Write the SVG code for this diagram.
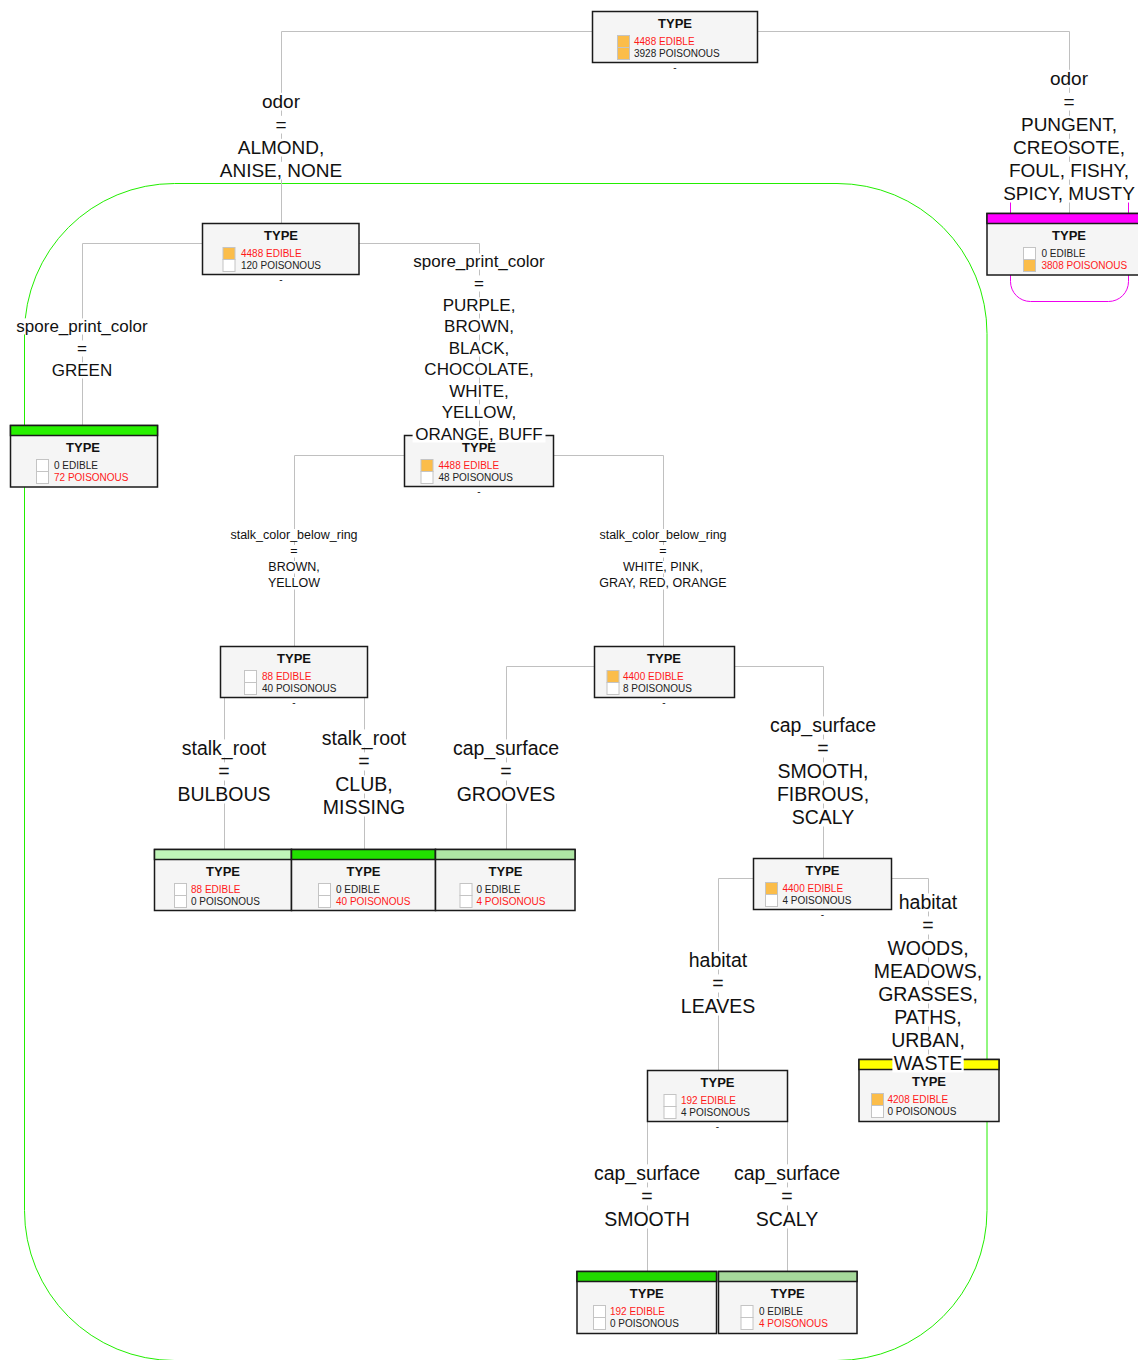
<svg xmlns="http://www.w3.org/2000/svg" width="1138" height="1360" viewBox="0 0 1138 1360">
<style>
  text { font-family: "Liberation Sans", Arial, sans-serif; }
  .box { fill: #f5f5f5; stroke: #1a1a1a; stroke-width: 1.5; }
  .ttl { font-size: 13px; font-weight: bold; text-anchor: middle; fill: #111; }
  .cnt { font-size: 10px; fill: #222; }
  .hot { fill: #ff1a1a; }
  .sq { stroke: #c4c4c4; stroke-width: 1; }
  .on { fill: #fbbd4a; }
  .off { fill: #ffffff; }
  .dash { font-size: 10px; text-anchor: middle; fill: #222; }
  .edge { fill: none; stroke: #c0c0c0; stroke-width: 1; }
  .bg { fill: #ffffff; }
  .lb { text-anchor: middle; fill: #111; }
  .f19 { font-size: 19px; }
  .f195 { font-size: 19.5px; }
  .f17 { font-size: 17px; }
  .f12 { font-size: 12.5px; }
</style>
<rect x="0" y="0" width="1138" height="1360" fill="#ffffff"/>

<!-- clusters -->
<g id="clusters">
  <rect x="24.5" y="183.5" width="962.5" height="1177" rx="150" ry="150" fill="none" stroke="#22ee00" stroke-width="1"/>
  <path d="M1010.5 190 V281.5 A20 20 0 0 0 1030.5 301.5 H1108.5 A20 20 0 0 0 1128.5 281.5 V190" fill="none" stroke="#ee00ee" stroke-width="1"/>
</g>

<!-- connectors -->
<g id="edges">
  <path class="edge" d="M592.5 31.5 H281.5 V223.5"/>
  <path class="edge" d="M757.5 31.5 H1069.5 V213.5"/>
  <path class="edge" d="M202.5 243.5 H82.5 V425.5"/>
  <path class="edge" d="M359 243.5 H479.5 V435.5"/>
  <path class="edge" d="M404.5 455.5 H294.5 V646.5"/>
  <path class="edge" d="M553.5 455.5 H663.5 V646.5"/>
  <path class="edge" d="M224.5 697.5 V849.5"/>
  <path class="edge" d="M364.5 697.5 V849.5"/>
  <path class="edge" d="M594.5 666.5 H506.5 V849.5"/>
  <path class="edge" d="M734.5 666.5 H823.5 V858.5"/>
  <path class="edge" d="M753.5 878.5 H718.5 V1070.5"/>
  <path class="edge" d="M891.5 878.5 H928.5 V1059.5"/>
  <path class="edge" d="M647.5 1121.5 V1271.5"/>
  <path class="edge" d="M787.5 1121.5 V1271.5"/>
</g>

<!-- decision nodes -->
<g id="n0">
  <rect class="box" x="592.5" y="11.5" width="165" height="51"/>
  <text class="ttl" x="675" y="27.5">TYPE</text>
  <rect class="sq on" x="617.5" y="35.5" width="12" height="12"/>
  <rect class="sq on" x="617.5" y="47.5" width="12" height="12"/>
  <text class="cnt hot" x="634" y="44.5">4488 EDIBLE</text>
  <text class="cnt" x="634" y="56.5">3928 POISONOUS</text>
  <text class="dash" x="675" y="70.5">-</text>
</g>
<g id="n1">
  <rect class="box" x="202.5" y="223.5" width="156.5" height="51"/>
  <text class="ttl" x="281" y="239.5">TYPE</text>
  <rect class="sq on" x="223" y="247.5" width="12" height="12"/>
  <rect class="sq off" x="223" y="259.5" width="12" height="12"/>
  <text class="cnt hot" x="241" y="256.5">4488 EDIBLE</text>
  <text class="cnt" x="241" y="268.5">120 POISONOUS</text>
  <text class="dash" x="281" y="282.5">-</text>
</g>
<g id="n3">
  <rect class="box" x="404.5" y="435.5" width="149" height="51"/>
  <text class="ttl" x="479" y="451.5">TYPE</text>
  <rect class="sq on" x="421" y="459.5" width="12" height="12"/>
  <rect class="sq off" x="421" y="471.5" width="12" height="12"/>
  <text class="cnt hot" x="438.5" y="468.5">4488 EDIBLE</text>
  <text class="cnt" x="438.5" y="480.5">48 POISONOUS</text>
  <text class="dash" x="479" y="494.5">-</text>
</g>
<g id="n4">
  <rect class="box" x="220.5" y="646.5" width="147" height="51"/>
  <text class="ttl" x="294" y="662.5">TYPE</text>
  <rect class="sq off" x="244.5" y="670.5" width="12" height="12"/>
  <rect class="sq off" x="244.5" y="682.5" width="12" height="12"/>
  <text class="cnt hot" x="262" y="679.5">88 EDIBLE</text>
  <text class="cnt" x="262" y="691.5">40 POISONOUS</text>
  <text class="dash" x="294" y="705.5">-</text>
</g>
<g id="n5">
  <rect class="box" x="594.5" y="646.5" width="140" height="51"/>
  <text class="ttl" x="664" y="662.5">TYPE</text>
  <rect class="sq on" x="607" y="670.5" width="12" height="12"/>
  <rect class="sq off" x="607" y="682.5" width="12" height="12"/>
  <text class="cnt hot" x="623" y="679.5">4400 EDIBLE</text>
  <text class="cnt" x="623" y="691.5">8 POISONOUS</text>
  <text class="dash" x="664" y="705.5">-</text>
</g>
<g id="n6">
  <rect class="box" x="753.5" y="858.5" width="138" height="51"/>
  <text class="ttl" x="822.5" y="874.5">TYPE</text>
  <rect class="sq on" x="765.5" y="882.5" width="12" height="12"/>
  <rect class="sq off" x="765.5" y="894.5" width="12" height="12"/>
  <text class="cnt hot" x="782.5" y="891.5">4400 EDIBLE</text>
  <text class="cnt" x="782.5" y="903.5">4 POISONOUS</text>
  <text class="dash" x="822.5" y="917.5">-</text>
</g>
<g id="n7">
  <rect class="box" x="647.5" y="1070.5" width="140" height="51"/>
  <text class="ttl" x="717.5" y="1086.5">TYPE</text>
  <rect class="sq off" x="664" y="1094.5" width="12" height="12"/>
  <rect class="sq off" x="664" y="1106.5" width="12" height="12"/>
  <text class="cnt hot" x="681" y="1103.5">192 EDIBLE</text>
  <text class="cnt" x="681" y="1115.5">4 POISONOUS</text>
  <text class="dash" x="717.5" y="1129.5">-</text>
</g>

<!-- leaf nodes -->
<g id="n2">
  <rect class="box" x="987" y="213.5" width="164" height="61.5"/>
  <rect x="987" y="213.5" width="164" height="10" fill="#ff00ff" stroke="#1a1a1a" stroke-width="1.5"/>
  <text class="ttl" x="1069" y="239.5">TYPE</text>
  <rect class="sq off" x="1023.5" y="247.5" width="12" height="12"/>
  <rect class="sq on" x="1023.5" y="259.5" width="12" height="12"/>
  <text class="cnt" x="1041.5" y="256.5">0 EDIBLE</text>
  <text class="cnt hot" x="1041.5" y="268.5">3808 POISONOUS</text>
</g>
<g id="n8">
  <rect class="box" x="10.5" y="425.5" width="147" height="61.5"/>
  <rect x="10.5" y="425.5" width="147" height="10" fill="#28f000" stroke="#1a1a1a" stroke-width="1.5"/>
  <text class="ttl" x="83" y="451.5">TYPE</text>
  <rect class="sq off" x="36.5" y="459.5" width="12" height="12"/>
  <rect class="sq off" x="36.5" y="471.5" width="12" height="12"/>
  <text class="cnt" x="54" y="468.5">0 EDIBLE</text>
  <text class="cnt hot" x="54" y="480.5">72 POISONOUS</text>
</g>
<g id="n9">
  <rect class="box" x="154.5" y="849.5" width="137" height="61"/>
  <rect x="154.5" y="849.5" width="137" height="10" fill="#c0f5b8" stroke="#1a1a1a" stroke-width="1.5"/>
  <text class="ttl" x="223" y="875.5">TYPE</text>
  <rect class="sq off" x="174.5" y="883.5" width="12" height="12"/>
  <rect class="sq off" x="174.5" y="895.5" width="12" height="12"/>
  <text class="cnt hot" x="191" y="892.5">88 EDIBLE</text>
  <text class="cnt" x="191" y="904.5">0 POISONOUS</text>
</g>
<g id="n10">
  <rect class="box" x="291.5" y="849.5" width="144" height="61"/>
  <rect x="291.5" y="849.5" width="144" height="10" fill="#22e000" stroke="#1a1a1a" stroke-width="1.5"/>
  <text class="ttl" x="363.5" y="875.5">TYPE</text>
  <rect class="sq off" x="318.5" y="883.5" width="12" height="12"/>
  <rect class="sq off" x="318.5" y="895.5" width="12" height="12"/>
  <text class="cnt" x="336" y="892.5">0 EDIBLE</text>
  <text class="cnt hot" x="336" y="904.5">40 POISONOUS</text>
</g>
<g id="n11">
  <rect class="box" x="435.5" y="849.5" width="139.5" height="61"/>
  <rect x="435.5" y="849.5" width="139.5" height="10" fill="#aee6a4" stroke="#1a1a1a" stroke-width="1.5"/>
  <text class="ttl" x="505.5" y="875.5">TYPE</text>
  <rect class="sq off" x="460" y="883.5" width="12" height="12"/>
  <rect class="sq off" x="460" y="895.5" width="12" height="12"/>
  <text class="cnt" x="476.5" y="892.5">0 EDIBLE</text>
  <text class="cnt hot" x="476.5" y="904.5">4 POISONOUS</text>
</g>
<g id="n12">
  <rect class="box" x="859" y="1059.5" width="140" height="62"/>
  <rect x="859" y="1059.5" width="140" height="10" fill="#ffff00" stroke="#1a1a1a" stroke-width="1.5"/>
  <text class="ttl" x="929" y="1085.5">TYPE</text>
  <rect class="sq on" x="871.5" y="1093.5" width="12" height="12"/>
  <rect class="sq off" x="871.5" y="1105.5" width="12" height="12"/>
  <text class="cnt hot" x="887.5" y="1102.5">4208 EDIBLE</text>
  <text class="cnt" x="887.5" y="1114.5">0 POISONOUS</text>
</g>
<g id="n13">
  <rect class="box" x="577" y="1271.5" width="139.5" height="62"/>
  <rect x="577" y="1271.5" width="139.5" height="10" fill="#22d800" stroke="#1a1a1a" stroke-width="1.5"/>
  <text class="ttl" x="646.75" y="1297.5">TYPE</text>
  <rect class="sq off" x="593.5" y="1305.5" width="12" height="12"/>
  <rect class="sq off" x="593.5" y="1317.5" width="12" height="12"/>
  <text class="cnt hot" x="610" y="1314.5">192 EDIBLE</text>
  <text class="cnt" x="610" y="1326.5">0 POISONOUS</text>
</g>
<g id="n14">
  <rect class="box" x="718.5" y="1271.5" width="138.5" height="62"/>
  <rect x="718.5" y="1271.5" width="138.5" height="10" fill="#a6d99b" stroke="#1a1a1a" stroke-width="1.5"/>
  <text class="ttl" x="787.75" y="1297.5">TYPE</text>
  <rect class="sq off" x="741" y="1305.5" width="12" height="12"/>
  <rect class="sq off" x="741" y="1317.5" width="12" height="12"/>
  <text class="cnt" x="759" y="1314.5">0 EDIBLE</text>
  <text class="cnt hot" x="759" y="1326.5">4 POISONOUS</text>
</g>

<!-- edge labels -->
<g id="labels">
  <g>
    <rect class="bg" x="261" y="92.8" width="40" height="17.7"/>
    <rect class="bg" x="274.5" y="115.8" width="13" height="17.7"/>
    <rect class="bg" x="236.7" y="138.8" width="88.6" height="17.7"/>
    <rect class="bg" x="218.8" y="161.8" width="124.5" height="17.7"/>
    <text class="lb f19" x="281" y="108">odor</text>
    <text class="lb f19" x="281" y="131">=</text>
    <text class="lb f19" x="281" y="154">ALMOND,</text>
    <text class="lb f19" x="281" y="177">ANISE, NONE</text>
  </g>
  <g>
    <rect class="bg" x="1049" y="69.8" width="40" height="17.7"/>
    <rect class="bg" x="1062.5" y="92.8" width="13" height="17.7"/>
    <rect class="bg" x="1018.9" y="115.8" width="100.2" height="17.7"/>
    <rect class="bg" x="1012" y="138.8" width="114" height="17.7"/>
    <rect class="bg" x="1006.8" y="161.8" width="124.5" height="17.7"/>
    <rect class="bg" x="1001" y="184.8" width="136" height="17.7"/>
    <text class="lb f19" x="1069" y="85">odor</text>
    <text class="lb f19" x="1069" y="108">=</text>
    <text class="lb f19" x="1069" y="131">PUNGENT,</text>
    <text class="lb f19" x="1069" y="154">CREOSOTE,</text>
    <text class="lb f19" x="1069" y="177">FOUL, FISHY,</text>
    <text class="lb f19" x="1069" y="200">SPICY, MUSTY</text>
  </g>
  <g>
    <rect class="bg" x="15.4" y="318.4" width="133.3" height="16.1"/>
    <rect class="bg" x="76" y="340.4" width="12" height="16.1"/>
    <rect class="bg" x="50.8" y="362.4" width="62.5" height="16.1"/>
    <text class="lb f17" x="82" y="332">spore_print_color</text>
    <text class="lb f17" x="82" y="354">=</text>
    <text class="lb f17" x="82" y="376">GREEN</text>
  </g>
  <g>
    <rect class="bg" x="412.4" y="253.4" width="133.3" height="16.1"/>
    <rect class="bg" x="473" y="275.4" width="12" height="16.1"/>
    <rect class="bg" x="441.7" y="297.4" width="74.7" height="16.1"/>
    <rect class="bg" x="443" y="318.4" width="72" height="16.1"/>
    <rect class="bg" x="447.8" y="340.4" width="62.5" height="16.1"/>
    <rect class="bg" x="422.8" y="361.4" width="112.5" height="16.1"/>
    <rect class="bg" x="448.3" y="383.4" width="61.5" height="16.1"/>
    <rect class="bg" x="440.2" y="404.4" width="77.6" height="16.1"/>
    <rect class="bg" x="412.6" y="426.4" width="132.9" height="16.1"/>
    <text class="lb f17" x="479" y="267">spore_print_color</text>
    <text class="lb f17" x="479" y="289">=</text>
    <text class="lb f17" x="479" y="311">PURPLE,</text>
    <text class="lb f17" x="479" y="332">BROWN,</text>
    <text class="lb f17" x="479" y="354">BLACK,</text>
    <text class="lb f17" x="479" y="375">CHOCOLATE,</text>
    <text class="lb f17" x="479" y="397">WHITE,</text>
    <text class="lb f17" x="479" y="418">YELLOW,</text>
    <text class="lb f17" x="479" y="440">ORANGE, BUFF</text>
  </g>
  <g>
    <rect class="bg" x="229.5" y="529" width="129" height="12.5"/>
    <rect class="bg" x="289.4" y="545" width="9.3" height="12.5"/>
    <rect class="bg" x="267.3" y="561" width="53.4" height="12.5"/>
    <rect class="bg" x="267" y="577" width="54.1" height="12.5"/>
    <text class="lb f12" x="294" y="539">stalk_color_below_ring</text>
    <text class="lb f12" x="294" y="555">=</text>
    <text class="lb f12" x="294" y="571">BROWN,</text>
    <text class="lb f12" x="294" y="587">YELLOW</text>
  </g>
  <g>
    <rect class="bg" x="598.5" y="529" width="129" height="12.5"/>
    <rect class="bg" x="658.4" y="545" width="9.3" height="12.5"/>
    <rect class="bg" x="622" y="561" width="81.9" height="12.5"/>
    <rect class="bg" x="597" y="577" width="131.9" height="12.5"/>
    <text class="lb f12" x="663" y="539">stalk_color_below_ring</text>
    <text class="lb f12" x="663" y="555">=</text>
    <text class="lb f12" x="663" y="571">WHITE, PINK,</text>
    <text class="lb f12" x="663" y="587">GRAY, RED, ORANGE</text>
  </g>
  <g>
    <rect class="bg" x="180.8" y="739.4" width="86.5" height="18.1"/>
    <rect class="bg" x="217.3" y="762.4" width="13.4" height="18.1"/>
    <rect class="bg" x="176.4" y="785.4" width="95.2" height="18.1"/>
    <text class="lb f195" x="224" y="755">stalk_root</text>
    <text class="lb f195" x="224" y="778">=</text>
    <text class="lb f195" x="224" y="801">BULBOUS</text>
  </g>
  <g>
    <rect class="bg" x="320.8" y="729.4" width="86.5" height="18.1"/>
    <rect class="bg" x="357.3" y="752.4" width="13.4" height="18.1"/>
    <rect class="bg" x="334.3" y="775.4" width="59.4" height="18.1"/>
    <rect class="bg" x="321.9" y="798.4" width="84.3" height="18.1"/>
    <text class="lb f195" x="364" y="745">stalk_root</text>
    <text class="lb f195" x="364" y="768">=</text>
    <text class="lb f195" x="364" y="791">CLUB,</text>
    <text class="lb f195" x="364" y="814">MISSING</text>
  </g>
  <g>
    <rect class="bg" x="451.9" y="739.4" width="108.2" height="18.1"/>
    <rect class="bg" x="499.3" y="762.4" width="13.4" height="18.1"/>
    <rect class="bg" x="455.7" y="785.4" width="100.6" height="18.1"/>
    <text class="lb f195" x="506" y="755">cap_surface</text>
    <text class="lb f195" x="506" y="778">=</text>
    <text class="lb f195" x="506" y="801">GROOVES</text>
  </g>
  <g>
    <rect class="bg" x="768.9" y="716.4" width="108.2" height="18.1"/>
    <rect class="bg" x="816.3" y="739.4" width="13.4" height="18.1"/>
    <rect class="bg" x="776.5" y="762.4" width="93" height="18.1"/>
    <rect class="bg" x="776" y="785.4" width="94.1" height="18.1"/>
    <rect class="bg" x="790" y="808.4" width="65.9" height="18.1"/>
    <text class="lb f195" x="823" y="732">cap_surface</text>
    <text class="lb f195" x="823" y="755">=</text>
    <text class="lb f195" x="823" y="778">SMOOTH,</text>
    <text class="lb f195" x="823" y="801">FIBROUS,</text>
    <text class="lb f195" x="823" y="824">SCALY</text>
  </g>
  <g>
    <rect class="bg" x="687.75" y="951.4" width="60.5" height="18.1"/>
    <rect class="bg" x="711.3" y="974.4" width="13.4" height="18.1"/>
    <rect class="bg" x="679" y="997.4" width="77.9" height="18.1"/>
    <text class="lb f195" x="718" y="967">habitat</text>
    <text class="lb f195" x="718" y="990">=</text>
    <text class="lb f195" x="718" y="1013">LEAVES</text>
  </g>
  <g>
    <rect class="bg" x="897.75" y="893.4" width="60.5" height="18.1"/>
    <rect class="bg" x="921.3" y="916.4" width="13.4" height="18.1"/>
    <rect class="bg" x="886.4" y="939.4" width="83.3" height="18.1"/>
    <rect class="bg" x="872.9" y="962.4" width="110.3" height="18.1"/>
    <rect class="bg" x="877.2" y="985.4" width="101.7" height="18.1"/>
    <rect class="bg" x="891.8" y="1008.4" width="72.4" height="18.1"/>
    <rect class="bg" x="890.2" y="1031.4" width="75.7" height="18.1"/>
    <rect class="bg" x="892.4" y="1054.4" width="71.3" height="18.1"/>
    <text class="lb f195" x="928" y="909">habitat</text>
    <text class="lb f195" x="928" y="932">=</text>
    <text class="lb f195" x="928" y="955">WOODS,</text>
    <text class="lb f195" x="928" y="978">MEADOWS,</text>
    <text class="lb f195" x="928" y="1001">GRASSES,</text>
    <text class="lb f195" x="928" y="1024">PATHS,</text>
    <text class="lb f195" x="928" y="1047">URBAN,</text>
    <text class="lb f195" x="928" y="1070">WASTE</text>
  </g>
  <g>
    <rect class="bg" x="592.9" y="1164.4" width="108.2" height="18.1"/>
    <rect class="bg" x="640.3" y="1187.4" width="13.4" height="18.1"/>
    <rect class="bg" x="603.2" y="1210.4" width="87.6" height="18.1"/>
    <text class="lb f195" x="647" y="1180">cap_surface</text>
    <text class="lb f195" x="647" y="1203">=</text>
    <text class="lb f195" x="647" y="1226">SMOOTH</text>
  </g>
  <g>
    <rect class="bg" x="732.9" y="1164.4" width="108.2" height="18.1"/>
    <rect class="bg" x="780.3" y="1187.4" width="13.4" height="18.1"/>
    <rect class="bg" x="754" y="1210.4" width="65.9" height="18.1"/>
    <text class="lb f195" x="787" y="1180">cap_surface</text>
    <text class="lb f195" x="787" y="1203">=</text>
    <text class="lb f195" x="787" y="1226">SCALY</text>
  </g>
</g>
</svg>
